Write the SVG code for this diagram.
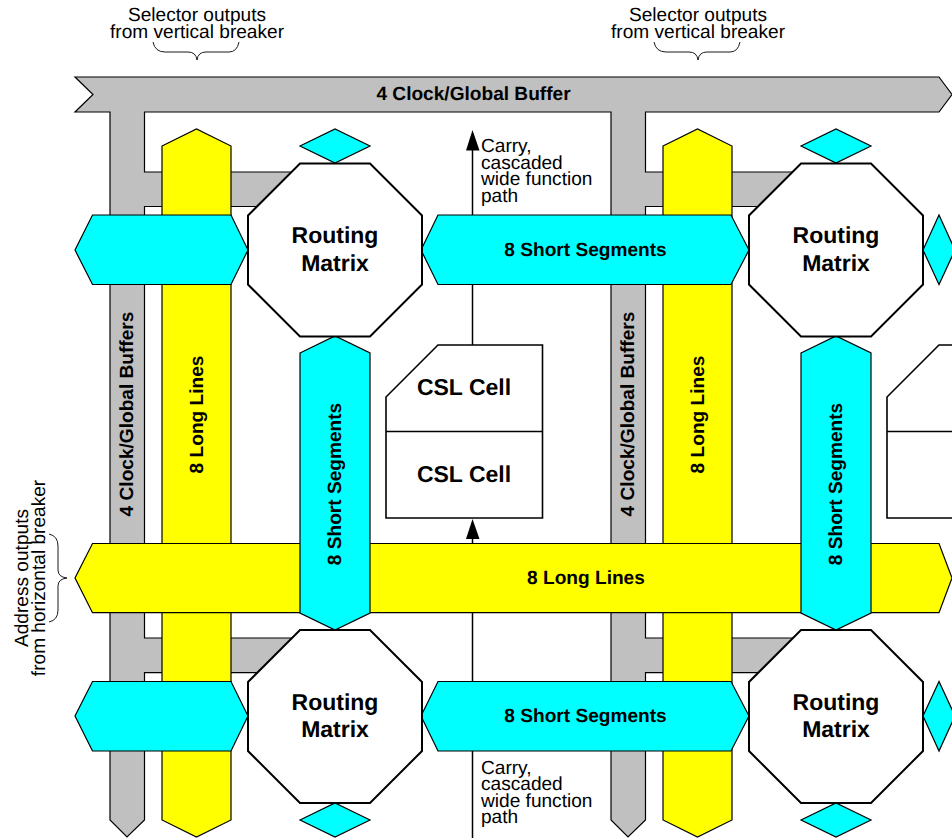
<svg xmlns="http://www.w3.org/2000/svg" width="952" height="840" viewBox="0 0 952 840">
<style>
text{font-family:"Liberation Sans",Arial,sans-serif;fill:#000;text-rendering:geometricPrecision}
.s{stroke:#000;stroke-width:1.2;stroke-linejoin:miter}
.gray{fill:#c0c0c0}
.yel{fill:#ff0}
.cy{fill:#0ff}
.oct{fill:#fff;stroke:#000;stroke-width:2}
.ln{fill:none;stroke:#000;stroke-width:1.5}
.cell{fill:#fff;stroke:#000;stroke-width:1.6}
.brace{fill:none;stroke:#000;stroke-width:.9}
.b15{font-size:19.100px;font-weight:bold;text-anchor:middle}
.b22{font-size:23px;font-weight:bold;text-anchor:middle}
.n{font-size:19.100px}
.c{text-anchor:middle}
</style>
<defs>
<polygon id="vy" class="yel s" points="162,146 196.500,129 231,146 231,820 196.500,837 162,820"/>
<polygon id="oc" class="oct" points="300,0 370,0 422,52 422,121 370,173 300,173 248,121 248,52"/>
<polygon id="dh" class="cy s" points="300,17 335,0 370,17 335,34"/>
</defs>
<g id="connectors">
<path class="ln" d="M472.500 148V345"/>
<polygon points="472.500,130 466,150.500 479.500,150.500" fill="#000"/>
<path class="ln" d="M472.500 535V545M472.500 612V682M472.500 750V838"/>
<polygon points="472.500,519 466,539 479.500,539" fill="#000"/>
</g>
<g id="clock-buffer">
<polygon class="gray s" points="75,77 939,77 952,94.500 939,112 645.500,112 645.500,172 801,172 801,206.500 645.500,206.500 645.500,638 801,638 801,672.700 645.500,672.700 645.500,820 628,837 611,820 611,112 144.500,112 144.500,172 300,172 300,206.500 144.500,206.500 144.500,638 300,638 300,672.700 144.500,672.700 144.500,820 127,837 110,820 110,112 75,112 93,94.500"/>
<text class="b15" x="473.500" y="100">4 Clock/Global Buffer</text>
<text class="b15" transform="translate(133,414) rotate(-90)">4 Clock/Global Buffers</text>
<text class="b15" transform="translate(634,414) rotate(-90)">4 Clock/Global Buffers</text>
</g>
<g id="long-lines-v1"><use href="#vy"/><text class="b15" transform="translate(202.500,414.500) rotate(-90)">8 Long Lines</text></g>
<g id="long-lines-v2"><use href="#vy" x="501"/><text class="b15" transform="translate(703.500,414.500) rotate(-90)">8 Long Lines</text></g>
<g id="long-lines-h">
<polygon class="yel s" points="92.500,543.500 939,543.500 952,578 939,612.700 92.500,612.700 75,578"/>
<text class="b15" x="586" y="584">8 Long Lines</text>
</g>
<g id="short-h-top-left"><polygon class="cy s" points="92.500,215 231,215 248,250 231,284.500 92.500,284.500 75,250"/></g>
<g id="short-h-top"><polygon class="cy s" points="438,215 731,215 749,250 731,284.500 438,284.500 421,250"/><text class="b15" x="585.500" y="256">8 Short Segments</text></g>
<g id="short-h-bot-left"><polygon class="cy s" points="92.500,681.500 231,681.500 248,716 231,751 92.500,751 75,716"/></g>
<g id="short-h-bot"><polygon class="cy s" points="438,681.500 731,681.500 749,716 731,751 438,751 421,716"/><text class="b15" x="585.500" y="722">8 Short Segments</text></g>
<g id="short-v1"><polygon class="cy s" points="300,353 335,336 370,353 370,613 335,630 300,613"/><text class="b15" transform="translate(341,484) rotate(-90)">8 Short Segments</text></g>
<g id="short-v2"><polygon class="cy s" points="801,353 836,336 871,353 871,613 836,630 801,613"/><text class="b15" transform="translate(842,484) rotate(-90)">8 Short Segments</text></g>
<g id="diamonds">
<use href="#dh" y="129"/><use href="#dh" x="501" y="129"/>
<use href="#dh" y="803"/><use href="#dh" x="501" y="803"/>
<polygon class="cy s" points="923,250 939,215 955,250 939,284.500"/>
<polygon class="cy s" points="923,716 939,681.500 955,716 939,751"/>
</g>
<g id="rm-1"><use href="#oc" y="163.500"/><text class="b22" x="335" y="243">Routing</text><text class="b22" x="335" y="271">Matrix</text></g>
<g id="rm-2"><use href="#oc" x="501" y="163.500"/><text class="b22" x="836" y="243">Routing</text><text class="b22" x="836" y="271">Matrix</text></g>
<g id="rm-3"><use href="#oc" y="630"/><text class="b22" x="335" y="710">Routing</text><text class="b22" x="335" y="737">Matrix</text></g>
<g id="rm-4"><use href="#oc" x="501" y="630"/><text class="b22" x="836" y="710">Routing</text><text class="b22" x="836" y="737">Matrix</text></g>
<g id="csl-1">
<polygon class="cell" points="438,345 542.500,345 542.500,518 386,518 386,397"/>
<path class="cell" d="M386 431.500H542.500"/>
<text class="b22" x="464" y="394.500">CSL Cell</text>
<text class="b22" x="464" y="482">CSL Cell</text>
</g>
<g id="csl-2">
<polygon class="cell" points="939,345 960,345 960,518 887,518 887,397"/>
<path class="cell" d="M887 431.500H960"/>
</g>
<g id="labels">
<text class="n c" x="197" y="20.500">Selector outputs</text>
<text class="n c" x="197" y="37.500">from vertical breaker</text>
<text class="n c" x="698" y="20.500">Selector outputs</text>
<text class="n c" x="698" y="37.500">from vertical breaker</text>
<path class="brace" d="M153 42Q155 52 165 52H188Q196 52 197 60Q198 52 206 52H229Q237 52 239 42"/>
<path class="brace" d="M654 42Q656 52 666 52H689Q697 52 698 60Q699 52 707 52H730Q738 52 740 42"/>
<text class="n c" transform="translate(28,578) rotate(-90)">Address outputs</text>
<text class="n c" transform="translate(45,578) rotate(-90)">from horizontal breaker</text>
<path class="brace" d="M49 534Q58 536 58 546V570Q58 577 67 578Q58 579 58 586V610Q58 620 49 622"/>
<text class="n" x="481" y="152">Carry,</text>
<text class="n" x="481" y="168.500">cascaded</text>
<text class="n" x="481" y="185">wide function</text>
<text class="n" x="481" y="202">path</text>
<text class="n" x="481" y="773.500">Carry,</text>
<text class="n" x="481" y="790">cascaded</text>
<text class="n" x="481" y="806.500">wide function</text>
<text class="n" x="481" y="823">path</text>
</g>
</svg>
